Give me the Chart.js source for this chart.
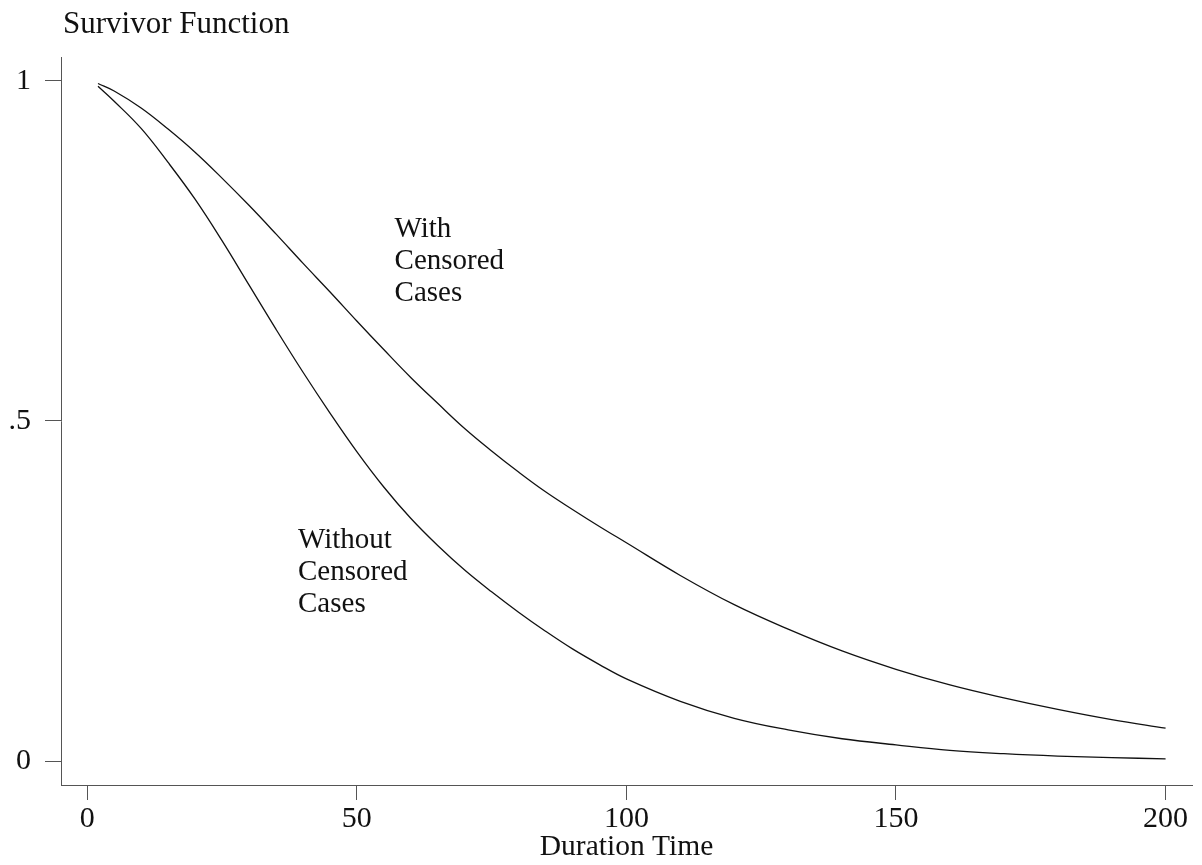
<!DOCTYPE html>
<html>
<head>
<meta charset="utf-8">
<title>Survivor Function</title>
<script src="https://cdn.jsdelivr.net/npm/chart.js@4.4.1/dist/chart.umd.min.js"></script>
<style>
  html, body { margin: 0; padding: 0; background: #fff; }
  #wrap { width: 1202px; height: 865px; }
</style>
</head>
<body>
<div id="wrap"><canvas id="survChart" width="1202" height="865"></canvas></div>
<script>
// Duration time points
var durations = [2, 5, 10, 15, 20, 25, 30, 35, 40, 45, 50, 55, 60, 65, 70, 75, 80, 85, 90, 95,
  100, 110, 120, 130, 140, 150, 160, 170, 180, 190, 200];

// Survivor function, with censored cases
var withCensored = [0.996, 0.985, 0.960, 0.929, 0.895, 0.857, 0.817, 0.775, 0.732, 0.690,
  0.647, 0.605, 0.564, 0.526, 0.489, 0.456, 0.425, 0.396, 0.370, 0.345,
  0.321, 0.273, 0.230, 0.194, 0.162, 0.135, 0.112, 0.093, 0.076, 0.061, 0.0485];

// Survivor function, without censored cases
var withoutCensored = [0.992, 0.970, 0.930, 0.880, 0.826, 0.765, 0.700, 0.635, 0.572, 0.512,
  0.455, 0.403, 0.357, 0.317, 0.281, 0.249, 0.219, 0.191, 0.165, 0.142,
  0.121, 0.088, 0.063, 0.046, 0.033, 0.024, 0.016, 0.011, 0.0075, 0.0052, 0.0035];

var xTicks = [0, 50, 100, 150, 200];
var yTicks = [0, 0.5, 1];
var yTickLabels = ["0", ".5", "1"];

// curve labels, anchored in data coordinates
var curveLabels = [
  { x: 57.0, y: 0.771, lines: ["With", "Censored", "Cases"] },
  { x: 39.1, y: 0.3135, lines: ["Without", "Censored", "Cases"] }
];

var serif = "'Liberation Serif', 'Times New Roman', serif";

function toPoints(values) {
  return durations.map(function (d, i) {
    return { x: d, y: values[i] };
  });
}

// Plot title and curve labels
var textPlugin = {
  id: "textPlugin",
  afterDraw: function (chart) {
    var ctx = chart.ctx;
    var xs = chart.scales.x;
    var ys = chart.scales.y;
    ctx.save();
    ctx.fillStyle = "#111";
    ctx.font = "31px " + serif;
    ctx.textAlign = "left";
    ctx.textBaseline = "alphabetic";
    ctx.fillText("Survivor Function", chart.chartArea.left + 2, 33);

    ctx.font = "29px " + serif;
    curveLabels.forEach(function (lab) {
      var px = xs.getPixelForValue(lab.x);
      var py = ys.getPixelForValue(lab.y);
      lab.lines.forEach(function (line, i) {
        ctx.fillText(line, px, py + i * 32.3);
      });
    });
    ctx.restore();
  }
};

var ctx = document.getElementById("survChart").getContext("2d");

var myChart = new Chart(ctx, {
  type: "line",
  data: {
    datasets: [
      {
        label: "With Censored Cases",
        data: toPoints(withCensored),
        borderColor: "#111",
        borderWidth: 1.3,
        pointRadius: 0,
        fill: false,
        tension: 0.4
      },
      {
        label: "Without Censored Cases",
        data: toPoints(withoutCensored),
        borderColor: "#111",
        borderWidth: 1.3,
        pointRadius: 0,
        fill: false,
        tension: 0.4
      }
    ]
  },
  options: {
    responsive: false,
    animation: false,
    layout: { padding: { top: 57, right: 10, left: 0, bottom: 0 } },
    plugins: {
      legend: { display: false },
      tooltip: { enabled: false }
    },
    scales: {
      x: {
        type: "linear",
        min: -4.86,
        max: 204.9,
        afterBuildTicks: function (scale) {
          scale.ticks = xTicks.map(function (v) { return { value: v }; });
        },
        afterFit: function (scale) {
          scale.height = 80;
        },
        grid: {
          drawOnChartArea: false,
          drawTicks: true,
          tickLength: 15,
          color: "#555"
        },
        border: { display: true, color: "#555", width: 1 },
        ticks: {
          color: "#111",
          padding: 1,
          maxRotation: 0,
          font: { family: serif, size: 30 }
        },
        title: {
          display: true,
          text: "Duration Time",
          color: "#111",
          padding: { top: 0, bottom: 0 },
          font: { family: serif, size: 29.5 }
        }
      },
      y: {
        type: "linear",
        min: -0.035,
        max: 1.035,
        afterBuildTicks: function (scale) {
          scale.ticks = yTicks.map(function (v) { return { value: v }; });
        },
        afterFit: function (scale) {
          scale.width = 61;
        },
        grid: {
          drawOnChartArea: false,
          drawTicks: true,
          tickLength: 16,
          color: "#555"
        },
        border: { display: true, color: "#555", width: 1 },
        ticks: {
          color: "#111",
          padding: 14,
          font: { family: serif, size: 30 },
          callback: function (value) {
            var i = yTicks.indexOf(value);
            return i >= 0 ? yTickLabels[i] : "";
          }
        }
      }
    }
  },
  plugins: [textPlugin]
});
</script>
</body>
</html>
